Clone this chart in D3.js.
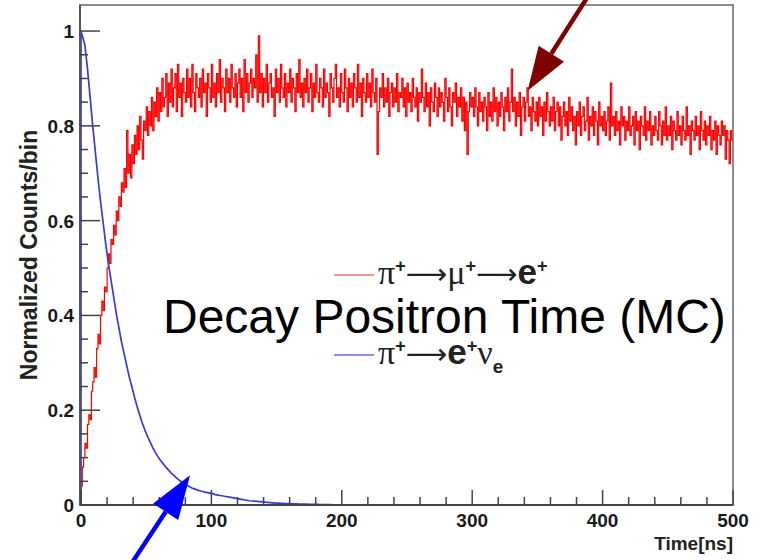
<!DOCTYPE html>
<html>
<head>
<meta charset="utf-8">
<script src="https://cdn.jsdelivr.net/npm/d3@7"></script>
<style>
  body { margin: 0; background: #fff; }
  svg { display: block; }
</style>
</head>
<body>
<div id="chart"></div>
<script>
const width = 763;
const height = 560;

// pi -> mu -> e, 1 ns bins from 0 to 500 ns
const redBinWidth = 1;
const redValues = [
  0.04, 0.08, 0.10, 0.13, 0.12, 0.17, 0.19, 0.18, 0.24, 0.26,
  0.29, 0.27, 0.33, 0.36, 0.34, 0.40, 0.43, 0.41, 0.46, 0.45,
  0.50, 0.53, 0.51, 0.56, 0.55, 0.59, 0.57, 0.62, 0.60, 0.65,
  0.63, 0.68, 0.66, 0.71, 0.67, 0.79, 0.70, 0.74, 0.69, 0.76,
  0.72, 0.78, 0.74, 0.80, 0.75, 0.82, 0.77, 0.73, 0.81, 0.79,
  0.84, 0.78, 0.83, 0.80, 0.86, 0.79, 0.85, 0.82, 0.88, 0.81,
  0.87, 0.83, 0.90, 0.84, 0.86, 0.91, 0.82, 0.89, 0.85, 0.92,
  0.84, 0.88, 0.91, 0.83, 0.93, 0.86, 0.89, 0.82, 0.90, 0.87,
  0.85, 0.92, 0.86, 0.90, 0.84, 0.93, 0.87, 0.83, 0.91, 0.88,
  0.86, 0.90, 0.84, 0.92, 0.87, 0.89, 0.82, 0.91, 0.88, 0.85,
  0.93, 0.86, 0.89, 0.84, 0.91, 0.87, 0.94, 0.85, 0.90, 0.88,
  0.83, 0.92, 0.87, 0.90, 0.85, 0.93, 0.88, 0.86, 0.91, 0.84,
  0.89, 0.92, 0.86, 0.90, 0.83, 0.94, 0.87, 0.91, 0.85, 0.89,
  0.92, 0.86, 0.90, 0.88, 0.95, 0.85, 0.99, 0.87, 0.91, 0.84,
  0.90, 0.87, 0.93, 0.85, 0.89, 0.91, 0.86, 0.88, 0.82, 0.92,
  0.87, 0.90, 0.85, 0.93, 0.88, 0.86, 0.91, 0.84, 0.89, 0.87,
  0.92, 0.85, 0.90, 0.88, 0.83, 0.91, 0.87, 0.94, 0.86, 0.89,
  0.84, 0.90, 0.87, 0.92, 0.85, 0.88, 0.91, 0.83, 0.89, 0.86,
  0.93, 0.87, 0.85, 0.90, 0.88, 0.84, 0.92, 0.86, 0.89, 0.87,
  0.82, 0.91, 0.88, 0.85, 0.90, 0.93, 0.86, 0.88, 0.84, 0.91,
  0.87, 0.85, 0.92, 0.88, 0.83, 0.90, 0.86, 0.89, 0.84, 0.91,
  0.88, 0.85, 0.93, 0.86, 0.89, 0.82, 0.90, 0.87, 0.85, 0.91,
  0.86, 0.89, 0.84, 0.92, 0.87, 0.85, 0.90, 0.74, 0.83, 0.88,
  0.86, 0.91, 0.84, 0.88, 0.85, 0.90, 0.82, 0.87, 0.89, 0.84,
  0.88, 0.85, 0.91, 0.83, 0.87, 0.86, 0.90, 0.84, 0.88, 0.82,
  0.89, 0.85, 0.87, 0.83, 0.90, 0.86, 0.84, 0.88, 0.81, 0.87,
  0.85, 0.92, 0.86, 0.83, 0.89, 0.84, 0.87, 0.80, 0.88, 0.85,
  0.83, 0.89, 0.86, 0.82, 0.88, 0.84, 0.87, 0.85, 0.81, 0.90,
  0.86, 0.83, 0.88, 0.84, 0.80, 0.87, 0.85, 0.89, 0.82, 0.86,
  0.84, 0.88, 0.81, 0.86, 0.79, 0.85, 0.74, 0.83, 0.87, 0.84,
  0.86, 0.82, 0.88, 0.84, 0.80, 0.87, 0.83, 0.85, 0.81, 0.86,
  0.84, 0.79, 0.87, 0.82, 0.85, 0.81, 0.88, 0.83, 0.86, 0.80,
  0.85, 0.82, 0.87, 0.84, 0.79, 0.86, 0.83, 0.88, 0.81, 0.85,
  0.92, 0.83, 0.86, 0.80, 0.85, 0.82, 0.87, 0.78, 0.84, 0.86,
  0.81, 0.85, 0.88, 0.82, 0.84, 0.79, 0.86, 0.83, 0.81, 0.85,
  0.80, 0.86, 0.82, 0.84, 0.78, 0.85, 0.81, 0.87, 0.83, 0.80,
  0.84, 0.81, 0.86, 0.79, 0.83, 0.85, 0.80, 0.84, 0.77, 0.82,
  0.85, 0.80, 0.83, 0.78, 0.86, 0.81, 0.84, 0.79, 0.82, 0.76,
  0.83, 0.80, 0.85, 0.78, 0.82, 0.84, 0.79, 0.81, 0.86, 0.77,
  0.82, 0.80, 0.84, 0.78, 0.83, 0.81, 0.76, 0.85, 0.80, 0.82,
  0.79, 0.83, 0.78, 0.81, 0.84, 0.77, 0.89, 0.80, 0.82, 0.78,
  0.83, 0.79, 0.81, 0.76, 0.84, 0.80, 0.82, 0.77, 0.81, 0.79,
  0.84, 0.78, 0.80, 0.82, 0.76, 0.83, 0.79, 0.81, 0.75, 0.82,
  0.80, 0.78, 0.84, 0.77, 0.81, 0.79, 0.83, 0.76, 0.80, 0.78,
  0.82, 0.79, 0.77, 0.83, 0.80, 0.76, 0.81, 0.78, 0.84, 0.77,
  0.80, 0.78, 0.82, 0.75, 0.81, 0.79, 0.77, 0.83, 0.78, 0.80,
  0.76, 0.82, 0.79, 0.77, 0.84, 0.78, 0.80, 0.74, 0.81, 0.79,
  0.77, 0.82, 0.78, 0.80, 0.75, 0.83, 0.79, 0.77, 0.81, 0.76,
  0.80, 0.78, 0.82, 0.75, 0.79, 0.77, 0.81, 0.74, 0.80, 0.78,
  0.76, 0.81, 0.78, 0.80, 0.73, 0.79, 0.77, 0.72, 0.79, 0.77
];

// pi -> e nu, 2 ns bins from 0 to 200 ns (zero afterwards)
const blueBinWidth = 2;
const blueValues = [
  1.00, 0.97, 0.92, 0.86, 0.80, 0.745, 0.69, 0.64, 0.595, 0.55,
  0.51, 0.475, 0.44, 0.405, 0.375, 0.345, 0.32, 0.295, 0.27, 0.25,
  0.228, 0.208, 0.19, 0.173, 0.158, 0.145, 0.133, 0.121, 0.111, 0.102,
  0.094, 0.087, 0.080, 0.074, 0.068, 0.063, 0.058, 0.053, 0.049, 0.045,
  0.042, 0.039, 0.036, 0.034, 0.032, 0.030, 0.029, 0.027, 0.026, 0.025,
  0.024, 0.022, 0.021, 0.020, 0.019, 0.018, 0.017, 0.016, 0.015, 0.014,
  0.013, 0.012, 0.011, 0.010, 0.009, 0.0085, 0.008, 0.0075, 0.007, 0.0065,
  0.006, 0.0055, 0.005, 0.0045, 0.004, 0.004, 0.0035, 0.0035, 0.003, 0.003,
  0.003, 0.0025, 0.0025, 0.002, 0.002, 0.002, 0.002, 0.0015, 0.0015, 0.0015,
  0.0015, 0.001, 0.001, 0.001, 0.001, 0.001, 0.0005, 0.0005, 0.0005, 0.0005
];

const xMajorTicks = [0, 100, 200, 300, 400, 500];
const yMajorTicks = [0, 0.2, 0.4, 0.6, 0.8, 1];
const yTickLabels = ["0", "0.2", "0.4", "0.6", "0.8", "1"];

// annotation arrows in data coordinates: [tail, tip]
const redArrow = [[388, 1.07], [342.5, 0.874]];
const blueArrow = [[40, -0.118], [83.6, 0.063]];

const svg = d3
  .select("#chart")
  .append("svg")
  .attr("width", width)
  .attr("height", height);

const x = d3.scaleLinear().domain([0, 500]).range([81, 733]);
const y = d3.scaleLinear().domain([0, 1.055]).range([505, 5]);

// frame
svg
  .append("rect")
  .attr("x", 80)
  .attr("y", 5)
  .attr("width", 653)
  .attr("height", 500)
  .attr("fill", "none")
  .attr("stroke", "#8c8c8c")
  .attr("stroke-width", 2);

// histogram paths
const step = d3
  .line()
  .x((d) => x(d[0]))
  .y((d) => y(d[1]))
  .curve(d3.curveStepAfter);

const smooth = d3
  .line()
  .x((d) => x(d[0]))
  .y((d) => y(d[1]));

const redPoints = [[0, 0]].concat(
  redValues.map((v, i) => [i * redBinWidth, v]),
  [[500, redValues[redValues.length - 1]]]
);
const bluePoints = [[0, 0]].concat(
  blueValues.map((v, i) => [i * blueBinWidth + (i === 0 ? 0 : blueBinWidth / 2), v]),
  [[blueValues.length * blueBinWidth, 0], [500, 0]]
);

svg
  .append("path")
  .attr("d", step(redPoints))
  .attr("fill", "none")
  .attr("stroke", "#ff0000")
  .attr("stroke-width", 1.2);

svg
  .append("path")
  .attr("d", smooth(bluePoints))
  .attr("fill", "none")
  .attr("stroke", "#3a3ad4")
  .attr("stroke-width", 1.7);

// axes lines
svg
  .append("line")
  .attr("x1", 80).attr("x2", 80)
  .attr("y1", 5).attr("y2", 505)
  .attr("stroke", "#555")
  .attr("stroke-width", 2);
svg
  .append("line")
  .attr("x1", 80).attr("x2", 733)
  .attr("y1", 505).attr("y2", 505)
  .attr("stroke", "#444")
  .attr("stroke-width", 2);

// y ticks
const yMinor = d3.range(0, 21).map((i) => i * 0.05);
svg
  .append("g")
  .selectAll("line")
  .data(yMinor)
  .enter()
  .append("line")
  .attr("x1", 80)
  .attr("x2", (d, i) => (i % 4 === 0 ? 100 : 88))
  .attr("y1", (d) => y(d))
  .attr("y2", (d) => y(d))
  .attr("stroke", "#444")
  .attr("stroke-width", 1.5);

svg
  .append("g")
  .selectAll("text")
  .data(yMajorTicks)
  .enter()
  .append("text")
  .attr("x", 74)
  .attr("y", (d) => y(d) + 7)
  .attr("text-anchor", "end")
  .attr("font-family", "Liberation Sans, Arial, sans-serif")
  .attr("font-weight", "bold")
  .attr("font-size", 19)
  .attr("fill", "#1a1a1a")
  .text((d, i) => yTickLabels[i]);

// x ticks
const xMinor = d3.range(0, 26).map((i) => i * 20);
svg
  .append("g")
  .selectAll("line")
  .data(xMinor)
  .enter()
  .append("line")
  .attr("x1", (d) => x(d))
  .attr("x2", (d) => x(d))
  .attr("y1", 505)
  .attr("y2", (d, i) => (i % 5 === 0 ? 490 : 497))
  .attr("stroke", "#444")
  .attr("stroke-width", 1.5);

svg
  .append("g")
  .selectAll("text")
  .data(xMajorTicks)
  .enter()
  .append("text")
  .attr("x", (d) => x(d))
  .attr("y", 527)
  .attr("text-anchor", "middle")
  .attr("font-family", "Liberation Sans, Arial, sans-serif")
  .attr("font-weight", "bold")
  .attr("font-size", 19)
  .attr("fill", "#1a1a1a")
  .text((d) => d);

// axis titles
svg
  .append("text")
  .attr("x", 733)
  .attr("y", 550)
  .attr("text-anchor", "end")
  .attr("font-family", "Liberation Sans, Arial, sans-serif")
  .attr("font-weight", "bold")
  .attr("font-size", 19)
  .attr("fill", "#222")
  .text("Time[ns]");

svg
  .append("text")
  .attr("transform", "translate(37,255) rotate(-90)")
  .attr("text-anchor", "middle")
  .attr("font-family", "Liberation Sans, Arial, sans-serif")
  .attr("font-weight", "bold")
  .attr("font-size", 23)
  .attr("fill", "#222")
  .text("Normalized Counts/bin");

// legend
const legend = svg.append("g");
legend
  .append("line")
  .attr("x1", 334).attr("x2", 374)
  .attr("y1", 275).attr("y2", 275)
  .attr("stroke", "#f07070")
  .attr("stroke-width", 1.5);
legend
  .append("line")
  .attr("x1", 334).attr("x2", 374)
  .attr("y1", 355).attr("y2", 355)
  .attr("stroke", "#6a6ae0")
  .attr("stroke-width", 1.5);

const serif = "Liberation Serif, serif";
const sans = "Liberation Sans, Arial, sans-serif";
const arrowFont = "DejaVu Sans, sans-serif";

function legendLabel(xPos, yPos, parts) {
  const t = legend
    .append("text")
    .attr("x", xPos)
    .attr("y", yPos)
    .attr("fill", "#222");
  parts.forEach((p) => {
    t.append("tspan")
      .attr("font-family", p.font)
      .attr("font-weight", p.bold ? "bold" : "normal")
      .attr("font-size", p.size)
      .attr("dy", p.dy || 0)
      .text(p.s);
  });
}

legendLabel(378, 284, [
  { s: "π", font: serif, size: 34 },
  { s: "+", font: sans, bold: true, size: 18, dy: -12 },
  { s: "⟶", font: arrowFont, size: 29, dy: 12 },
  { s: "μ", font: serif, size: 34 },
  { s: "+", font: sans, bold: true, size: 18, dy: -12 },
  { s: "⟶", font: arrowFont, size: 29, dy: 12 },
  { s: "e", font: sans, bold: true, size: 35 },
  { s: "+", font: sans, bold: true, size: 18, dy: -12 }
]);

legendLabel(378, 364, [
  { s: "π", font: serif, size: 34 },
  { s: "+", font: sans, bold: true, size: 18, dy: -12 },
  { s: "⟶", font: arrowFont, size: 29, dy: 12 },
  { s: "e", font: sans, bold: true, size: 35 },
  { s: "+", font: sans, bold: true, size: 18, dy: -12 },
  { s: "ν", font: serif, size: 34, dy: 12 },
  { s: "e", font: sans, bold: true, size: 19, dy: 9 }
]);

svg
  .append("text")
  .attr("x", 163)
  .attr("y", 333)
  .attr("font-family", sans)
  .attr("font-size", 48)
  .attr("fill", "#000")
  .text("Decay Positron Time (MC)");

// annotation arrows
function arrow(pts, color) {
  const p0 = [x(pts[0][0]), y(pts[0][1])];
  const p1 = [x(pts[1][0]), y(pts[1][1])];
  const ang = Math.atan2(p1[1] - p0[1], p1[0] - p0[0]);
  const headLen = 44;
  const headHalf = 15;
  const bx = p1[0] - headLen * Math.cos(ang);
  const by = p1[1] - headLen * Math.sin(ang);
  const nx = -Math.sin(ang);
  const ny = Math.cos(ang);
  svg
    .append("line")
    .attr("x1", p0[0]).attr("y1", p0[1])
    .attr("x2", bx).attr("y2", by)
    .attr("stroke", color)
    .attr("stroke-width", 4.5);
  svg
    .append("path")
    .attr(
      "d",
      `M${p1[0]},${p1[1]}L${bx + nx * headHalf},${by + ny * headHalf}L${bx - nx * headHalf},${by - ny * headHalf}Z`
    )
    .attr("fill", color);
}

arrow(redArrow, "#800000");
arrow(blueArrow, "#0000ff");
</script>
</body>
</html>
